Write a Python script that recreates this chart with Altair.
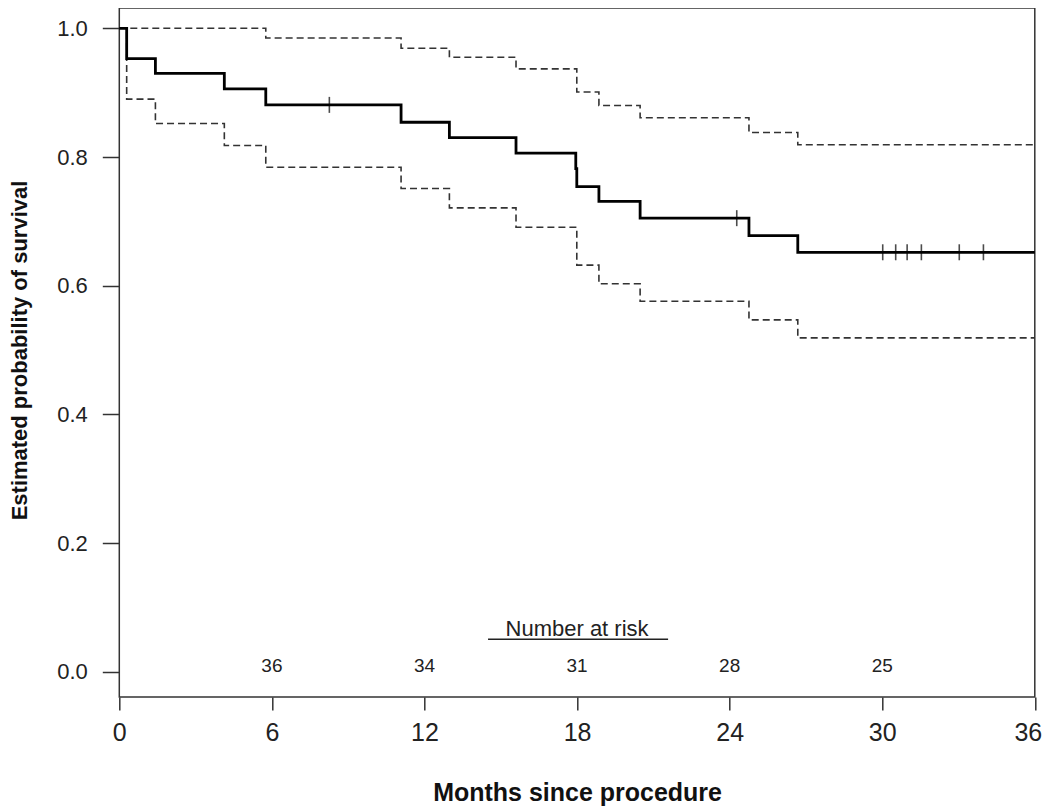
import altair as alt
import pandas as pd

# Kaplan-Meier estimate (step times in months, survival probability)
km_time = [0, 0.29, 1.42, 4.13, 5.76, 11.08, 12.98, 15.60, 17.95, 17.99, 18.86, 20.48, 24.76, 26.68, 36]
km_surv = [1.0, 0.953, 0.930, 0.906, 0.881, 0.854, 0.830, 0.806, 0.782, 0.754, 0.731, 0.705, 0.678, 0.652, 0.652]

# Upper 95% confidence limit
up_time = [0, 5.76, 11.08, 12.98, 15.60, 17.99, 18.86, 20.48, 24.76, 26.68, 36]
up_surv = [1.0, 0.985, 0.969, 0.955, 0.937, 0.901, 0.880, 0.861, 0.838, 0.819, 0.819]

# Lower 95% confidence limit
lo_time = [0, 0.29, 1.42, 4.13, 5.76, 11.08, 12.98, 15.60, 17.99, 18.86, 20.48, 24.76, 26.68, 36]
lo_surv = [1.0, 0.890, 0.852, 0.818, 0.784, 0.751, 0.721, 0.691, 0.632, 0.603, 0.576, 0.547, 0.519, 0.519]

# Censored observations
cens_time = [8.26, 24.28, 30.02, 30.53, 30.98, 31.54, 33.03, 33.98]
cens_surv = [0.881, 0.705, 0.652, 0.652, 0.652, 0.652, 0.652, 0.652]

# Number at risk
risk_time = [6, 12, 18, 24, 30]
risk_n = [36, 34, 31, 28, 25]

x_ticks = [0, 6, 12, 18, 24, 30, 36]
y_ticks = [0.0, 0.2, 0.4, 0.6, 0.8, 1.0]

km = pd.DataFrame({"t": km_time, "s": km_surv})
up = pd.DataFrame({"t": up_time, "s": up_surv})
lo = pd.DataFrame({"t": lo_time, "s": lo_surv})
cens = pd.DataFrame({"t": cens_time, "s": cens_surv})
risk = pd.DataFrame({"t": risk_time, "n": [str(v) for v in risk_n]})
risk_title = pd.DataFrame({"t": [18.0], "s": [0.056], "label": ["Number at risk"]})
risk_line = pd.DataFrame({"t": [14.5], "t2": [21.58], "s": [0.0508]})

FONT = "Liberation Sans, Arial, Helvetica, sans-serif"

x_scale = alt.Scale(domain=[0, 36], nice=False, zero=False)
y_scale = alt.Scale(domain=[-0.0389, 1.0315], nice=False, zero=False)

x_enc = alt.X(
    "t:Q", scale=x_scale,
    axis=alt.Axis(
        values=x_ticks, title="Months since procedure", domain=False, grid=False,
        tickSize=13, tickWidth=1.5, tickColor="#333", labelPadding=11,
        labelFlush=False, labelOverlap=False,
        labelOffset={"expr": "datum.value == 36 ? -7 : 0"},
        labelFontSize=25, labelFont=FONT, labelColor="#222",
        titleFontSize=25, titleFont=FONT, titleFontWeight="bold", titleColor="#111",
        titleY=104, titleBaseline="alphabetic",
    ),
)
y_enc = alt.Y(
    "s:Q", scale=y_scale,
    axis=alt.Axis(
        values=y_ticks, format=".1f", title="Estimated probability of survival",
        domain=False, grid=False, tickSize=17, tickWidth=1.5, tickColor="#333",
        labelPadding=15, labelFontSize=22, labelFont=FONT, labelColor="#222",
        labelFlush=False, labelOverlap=False,
        titleFontSize=22, titleFont=FONT, titleFontWeight="bold", titleColor="#111",
        titleX=-99.5, titleY=342, titleAngle=270, titleAlign="center",
        titleBaseline="middle",
    ),
)

upper = alt.Chart(up).mark_line(
    interpolate="step-after", color="#333", strokeWidth=1.6, strokeDash=[7, 4]
).encode(x=x_enc, y=y_enc)
lower = alt.Chart(lo).mark_line(
    interpolate="step-after", color="#333", strokeWidth=1.6, strokeDash=[7, 4]
).encode(x="t:Q", y="s:Q")
main = alt.Chart(km).mark_line(
    interpolate="step-after", color="#000", strokeWidth=2.8
).encode(x="t:Q", y="s:Q")
ticks = alt.Chart(cens).mark_tick(
    orient="vertical", color="#000", size=16, thickness=1.6
).encode(x="t:Q", y="s:Q")
risk_text = alt.Chart(risk).mark_text(
    font=FONT, fontSize=19, color="#222", baseline="alphabetic", align="center"
).encode(x="t:Q", y=alt.datum(0.0), text="n:N")
risk_lab = alt.Chart(risk_title).mark_text(
    font=FONT, fontSize=22, color="#222", baseline="alphabetic", align="center"
).encode(x="t:Q", y="s:Q", text="label:N")
risk_rule = alt.Chart(risk_line).mark_rule(color="#222", strokeWidth=1.5).encode(
    x="t:Q", x2="t2:Q", y="s:Q"
)

chart = alt.layer(upper, lower, main, ticks, risk_text, risk_lab, risk_rule).properties(
    width=915.5,
    height=689,
    padding={"left": 111.3, "top": 0, "right": 7, "bottom": 110},
    autosize=alt.AutoSizeParams(type="none"),
    background="white",
).configure_view(stroke="#333", strokeWidth=1.5)

chart.save("out.html", embed_options={"renderer": "svg", "actions": False})
